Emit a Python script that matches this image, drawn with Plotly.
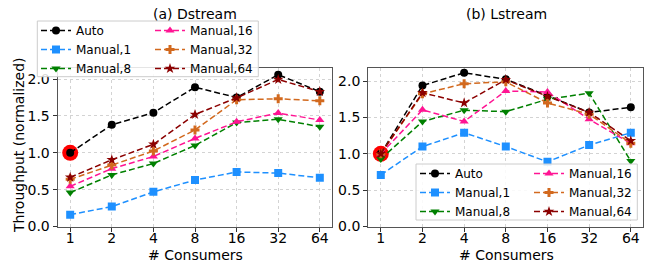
import plotly.graph_objects as go

# ---------------- data ----------------
consumers = ["1", "2", "4", "8", "16", "32", "64"]
series_names = ["Auto", "Manual,1", "Manual,8", "Manual,16", "Manual,32", "Manual,64"]

# (a) Dstream
d_auto = [1.00, 1.38, 1.545, 1.89, 1.75, 2.06, 1.83]
d_m1 = [0.16, 0.27, 0.47, 0.63, 0.74, 0.725, 0.66]
d_m8 = [0.46, 0.70, 0.855, 1.10, 1.41, 1.455, 1.355]
d_m16 = [0.545, 0.785, 0.95, 1.195, 1.42, 1.54, 1.445]
d_m32 = [0.64, 0.835, 1.025, 1.31, 1.72, 1.733, 1.705]
d_m64 = [0.667, 0.905, 1.115, 1.52, 1.745, 1.995, 1.83]

# (b) Lstream
l_auto = [1.00, 1.94, 2.115, 2.025, 1.80, 1.57, 1.64]
l_m1 = [0.71, 1.10, 1.29, 1.10, 0.89, 1.12, 1.29]
l_m8 = [0.93, 1.445, 1.60, 1.58, 1.75, 1.835, 0.90]
l_m16 = [1.00, 1.605, 1.445, 1.865, 1.85, 1.475, 1.145]
l_m32 = [1.00, 1.825, 1.965, 1.99, 1.70, 1.545, 1.145]
l_m64 = [1.00, 1.84, 1.70, 2.02, 1.79, 1.57, 1.18]

baseline_x = ["1"]
baseline_y = [1.0]

titles = ["(a) Dstream", "(b) Lstream"]
x_title = "# Consumers"
y_title = "Throughput (normalized)"

# ---------------- style ----------------
colors = ["#000000", "#1E90FF", "#008000", "#FF1493", "#D2691E", "#8B0000"]
symbols = ["circle", "square", "triangle-down", "triangle-up", "cross", "star"]
msizes = [8, 8, 8, 8, 7.5, 8]
FONT = "DejaVu Sans"
W, H = 650, 262

fig = go.Figure()

panels = [
    ("x", "y", [d_auto, d_m1, d_m8, d_m16, d_m32, d_m64], ["legend", "legend2"]),
    ("x2", "y2", [l_auto, l_m1, l_m8, l_m16, l_m32, l_m64], ["legend3", "legend4"]),
]

for xa, ya, data, legs in panels:
    # red highlight of the baseline point
    fig.add_trace(go.Scatter(
        x=baseline_x, y=baseline_y, xaxis=xa, yaxis=ya, mode="markers",
        marker=dict(color="red", size=16, symbol="circle", line=dict(width=0)),
        showlegend=False, hoverinfo="skip"))
    for i, (name, vals) in enumerate(zip(series_names, data)):
        fig.add_trace(go.Scatter(
            x=consumers, y=vals, xaxis=xa, yaxis=ya, name=name,
            mode="lines+markers",
            line=dict(color=colors[i], width=1.5, dash="6px,3px"),
            marker=dict(color=colors[i], size=msizes[i], symbol=symbols[i],
                        line=dict(width=0)),
            legend=legs[0] if i < 3 else legs[1],
            showlegend=True))

def px_x(p):
    return p / W

def px_y(p):
    return 1 - p / H

axis_common = dict(
    showgrid=True, gridcolor="#d3d3d3", griddash="dot", gridwidth=1,
    showline=True, mirror=True, linecolor="#555555", linewidth=1.3,
    ticks="outside", ticklen=4, tickcolor="#333333", tickwidth=1,
    tickfont=dict(family=FONT, size=14, color="black"),
    zeroline=False, automargin=False,
)

ydom = [px_y(226.5), px_y(67.7)]
fig.update_layout(
    xaxis=dict(domain=[px_x(57.7), px_x(332.3)], type="category",
               categoryorder="array", categoryarray=consumers,
               range=[-0.3, 6.3], anchor="y", ticklabelstandoff=-5, **axis_common),
    yaxis=dict(domain=ydom, range=[0, 2.155], dtick=0.5, tickformat=".1f",
               anchor="x", **axis_common),
    xaxis2=dict(domain=[px_x(368.3), px_x(643.3)], type="category",
                categoryorder="array", categoryarray=consumers,
                range=[-0.3, 6.3], anchor="y2", ticklabelstandoff=-5, **axis_common),
    yaxis2=dict(domain=ydom, range=[0, 2.185], dtick=0.5, tickformat=".1f",
                anchor="x2", **axis_common),
)

leg_common = dict(bgcolor="rgba(0,0,0,0)", borderwidth=0,
                  font=dict(family=FONT, size=12, color="black"),
                  xanchor="left", yanchor="top", itemwidth=30,
                  tracegroupgap=0, orientation="v")
fig.update_layout(
    legend=dict(x=px_x(36), y=px_y(16), **leg_common),
    legend2=dict(x=px_x(150), y=px_y(16), **leg_common),
    legend3=dict(x=px_x(415), y=px_y(159), **leg_common),
    legend4=dict(x=px_x(529), y=px_y(159), **leg_common),
)

# legend frames
for (x0, x1, y0, y1) in [(37.3, 258.3, 21, 76.7), (416, 637.3, 164, 220)]:
    fig.add_shape(type="rect", xref="paper", yref="paper",
                  x0=px_x(x0), x1=px_x(x1), y0=px_y(y1), y1=px_y(y0),
                  line=dict(color="#cccccc", width=1),
                  fillcolor="rgba(255,255,255,0.85)", layer="above")

annotations = [
    dict(text=titles[0], x=px_x(195), y=px_y(14), xref="paper", yref="paper",
         showarrow=False, xanchor="center", yanchor="middle",
         font=dict(family=FONT, size=14, color="black")),
    dict(text=titles[1], x=px_x(506), y=px_y(14), xref="paper", yref="paper",
         showarrow=False, xanchor="center", yanchor="middle",
         font=dict(family=FONT, size=14, color="black")),
    dict(text=x_title, x=px_x(195), y=px_y(255), xref="paper", yref="paper",
         showarrow=False, xanchor="center", yanchor="middle",
         font=dict(family=FONT, size=14, color="black")),
    dict(text=x_title, x=px_x(506), y=px_y(255), xref="paper", yref="paper",
         showarrow=False, xanchor="center", yanchor="middle",
         font=dict(family=FONT, size=14, color="black")),
    dict(text=y_title, x=px_x(19), y=px_y(145), xref="paper", yref="paper",
         showarrow=False, xanchor="center", yanchor="middle", textangle=-90,
         font=dict(family=FONT, size=14, color="black")),
]

fig.update_layout(
    width=W, height=H, margin=dict(l=0, r=0, t=0, b=0, autoexpand=False),
    paper_bgcolor="white", plot_bgcolor="white",
    annotations=annotations,
    font=dict(family=FONT, size=14, color="black"),
)

page_fix = "document.body.style.margin='0';document.body.style.overflow='hidden';"

fig.write_html(
    "out.html",
    config={"displayModeBar": False},
    post_script=page_fix,
)
